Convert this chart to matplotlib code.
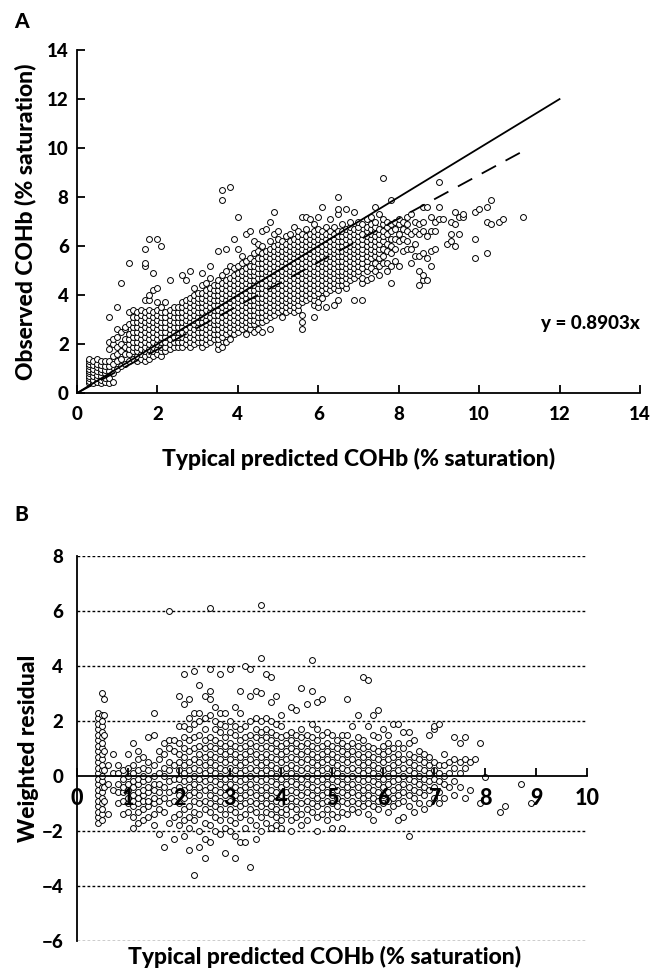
"""
Observed vs typical predicted COHb (A) and weighted residuals (B)
"""
import numpy as np
import matplotlib
matplotlib.use('Agg')
import matplotlib.pyplot as plt

plt.rcParams['font.family'] = ['Lato', 'DejaVu Sans']
HEAVY = 'black'

# ---- Panel A: observed vs predicted, one column of observed values per predicted value
a_pred_cols = [0.3, 0.4, 0.5, 0.6, 0.7, 0.8, 0.9, 1.0, 1.1, 1.2, 1.3, 1.4, 1.5, 1.6, 1.7, 1.8, 1.9,
               2.0, 2.1, 2.2, 2.3, 2.4, 2.5, 2.6, 2.7, 2.8, 2.9, 3.0, 3.1, 3.2, 3.3, 3.4, 3.5, 3.6,
               3.7, 3.8, 3.9, 4.0, 4.1, 4.2, 4.3, 4.4, 4.5, 4.6, 4.7, 4.8, 4.9, 5.0, 5.1, 5.2, 5.3,
               5.4, 5.5, 5.6, 5.7, 5.8, 5.9, 6.0, 6.1, 6.2, 6.3, 6.4, 6.5, 6.6, 6.7, 6.8, 6.9, 7.0,
               7.1, 7.2, 7.3, 7.4, 7.5, 7.6, 7.7, 7.8, 7.9, 8.0, 8.1, 8.2, 8.3, 8.4, 8.5, 8.6, 8.7,
               8.8, 8.9, 9.0, 9.1, 9.2, 9.3, 9.4, 9.5, 9.6, 9.9, 10.0, 10.2, 10.3, 10.5, 10.6, 11.1]
a_obs_cols = [
    [0.4, 0.5, 0.6, 0.7, 0.8, 0.9, 1.0, 1.1, 1.2, 1.3, 1.4],
    [0.4, 0.55, 0.7, 0.85, 1.0, 1.15, 1.3],
    [0.45, 0.6, 0.75, 0.9, 1.05, 1.2, 1.4],
    [0.4, 0.55, 0.7, 0.85, 1.0, 1.15, 1.3],
    [0.45, 0.6, 0.8, 0.95, 1.1, 1.3],
    [0.4, 0.6, 0.9, 1.1, 1.3, 1.8, 2.1, 3.1],
    [0.45, 0.8, 1.2, 1.5, 2.0, 2.2],
    [1.0, 1.3, 1.6, 1.9, 2.3, 2.6, 3.5],
    [1.1, 1.4, 1.7, 2.0, 2.5, 4.5],
    [1.2, 1.6, 1.9, 2.2, 2.6, 2.7],
    [1.3, 1.6, 1.8, 2.0, 2.2, 2.4, 2.8, 3.3, 5.3],
    [1.4, 1.7, 1.9, 2.1, 2.3, 2.5, 2.7, 2.9, 3.1, 3.4],
    [1.3, 1.5, 1.7, 1.9, 2.1, 2.3, 2.5, 2.7, 2.9, 3.1, 3.3],
    [1.4, 1.6, 1.8, 2.0, 2.2, 2.4, 2.6, 2.8, 3.0, 3.2, 3.4],
    [1.3, 1.5, 1.7, 1.9, 2.1, 2.3, 2.5, 2.7, 2.9, 3.1, 3.3, 3.8, 5.2, 5.3, 5.9],
    [1.4, 1.6, 1.8, 2.0, 2.2, 2.4, 2.6, 2.8, 3.0, 3.2, 3.4, 3.8, 4.0, 6.3],
    [1.5, 1.7, 1.9, 2.1, 2.3, 2.5, 2.7, 2.9, 3.1, 3.3, 4.2, 4.9],
    [1.6, 1.8, 2.0, 2.2, 2.4, 2.6, 2.8, 3.0, 3.2, 3.4, 3.7, 4.3, 6.3],
    [1.5, 1.7, 1.9, 2.1, 2.3, 2.5, 2.7, 2.9, 3.1, 3.3, 3.5, 6.0],
    [1.7, 1.9, 2.1, 2.3, 2.5, 2.7, 2.9, 3.1, 3.3, 3.7],
    [1.8, 2.0, 2.2, 2.4, 2.6, 2.8, 3.0, 3.2, 3.4, 4.6],
    [1.9, 2.1, 2.3, 2.5, 2.7, 2.9, 3.1, 3.3, 3.5],
    [1.9, 2.1, 2.3, 2.5, 2.7, 2.9, 3.1, 3.3, 3.5],
    [1.9, 2.1, 2.3, 2.5, 2.7, 2.9, 3.1, 3.3, 3.5, 3.7, 4.8],
    [2.0, 2.2, 2.4, 2.6, 2.8, 3.0, 3.2, 3.4, 3.6, 3.8, 4.6],
    [1.9, 2.1, 2.3, 2.5, 2.7, 2.9, 3.1, 3.3, 3.5, 3.7, 3.9, 5.0],
    [2.0, 2.2, 2.4, 2.6, 2.8, 3.0, 3.2, 3.4, 3.6, 3.8, 4.0, 4.3],
    [2.1, 2.3, 2.5, 2.7, 2.9, 3.1, 3.3, 3.5, 3.7, 3.9, 4.1],
    [1.9, 2.1, 2.3, 2.5, 2.7, 2.9, 3.1, 3.3, 3.5, 3.7, 3.9, 4.1, 4.4, 4.9],
    [2.0, 2.2, 2.4, 2.6, 2.8, 3.0, 3.2, 3.4, 3.6, 3.8, 4.0, 4.2, 4.5],
    [2.1, 2.3, 2.5, 2.7, 2.9, 3.1, 3.3, 3.5, 3.7, 3.9, 4.1, 4.3, 4.7, 5.2],
    [2.2, 2.4, 2.6, 2.8, 3.0, 3.2, 3.4, 3.6, 3.8, 4.0, 4.2, 4.4],
    [1.8, 2.0, 2.2, 2.4, 2.6, 2.8, 3.0, 3.2, 3.4, 3.6, 3.8, 4.0, 4.2, 4.4, 4.6, 5.8],
    [1.9, 2.3, 2.5, 2.7, 2.9, 3.1, 3.3, 3.5, 3.7, 3.9, 4.1, 4.3, 4.5, 4.8, 7.9, 8.3],
    [2.1, 2.4, 2.6, 2.8, 3.0, 3.2, 3.4, 3.6, 3.8, 4.0, 4.2, 4.4, 4.6, 5.0, 5.9],
    [2.2, 2.5, 2.7, 2.9, 3.1, 3.3, 3.5, 3.7, 3.9, 4.1, 4.3, 4.5, 4.7, 5.2, 8.4],
    [2.4, 2.6, 2.8, 3.0, 3.2, 3.4, 3.6, 3.8, 4.0, 4.2, 4.4, 4.6, 4.8, 5.1, 6.3],
    [2.5, 2.7, 2.9, 3.1, 3.3, 3.5, 3.7, 3.9, 4.1, 4.3, 4.5, 4.7, 4.9, 5.2, 5.9, 7.2],
    [2.6, 2.8, 3.0, 3.2, 3.4, 3.6, 3.8, 4.0, 4.2, 4.4, 4.6, 4.8, 5.0, 5.3, 5.6],
    [2.4, 2.7, 2.9, 3.1, 3.3, 3.5, 3.7, 3.9, 4.1, 4.3, 4.5, 4.7, 4.9, 5.1, 5.4, 6.5],
    [2.6, 2.8, 3.0, 3.2, 3.4, 3.6, 3.8, 4.0, 4.2, 4.4, 4.6, 4.8, 5.0, 5.2, 5.5, 6.6],
    [2.5, 2.8, 3.0, 3.2, 3.4, 3.6, 3.8, 4.0, 4.2, 4.4, 4.6, 4.8, 5.0, 5.2, 5.4, 5.7, 6.2],
    [2.6, 2.9, 3.1, 3.3, 3.5, 3.7, 3.9, 4.1, 4.3, 4.5, 4.7, 4.9, 5.1, 5.3, 5.5, 5.8, 6.1],
    [2.5, 2.9, 3.1, 3.3, 3.5, 3.7, 3.9, 4.1, 4.3, 4.5, 4.7, 4.9, 5.1, 5.3, 5.5, 5.7, 6.0, 6.6],
    [3.0, 3.2, 3.4, 3.6, 3.8, 4.0, 4.2, 4.4, 4.6, 4.8, 5.0, 5.2, 5.4, 5.6, 5.8, 6.7],
    [2.6, 3.1, 3.3, 3.5, 3.7, 3.9, 4.1, 4.3, 4.5, 4.7, 4.9, 5.1, 5.3, 5.5, 5.7, 5.9, 6.2, 7.0],
    [3.2, 3.4, 3.6, 3.8, 4.0, 4.2, 4.4, 4.6, 4.8, 5.0, 5.2, 5.4, 5.6, 5.8, 6.0, 6.5, 7.4],
    [3.3, 3.5, 3.7, 3.9, 4.1, 4.3, 4.5, 4.7, 4.9, 5.1, 5.3, 5.5, 5.7, 5.9, 6.1, 6.3, 6.6],
    [3.1, 3.4, 3.6, 3.8, 4.0, 4.2, 4.4, 4.6, 4.8, 5.0, 5.2, 5.4, 5.6, 5.8, 6.0, 6.2],
    [3.3, 3.5, 3.7, 3.9, 4.1, 4.3, 4.5, 4.7, 4.9, 5.1, 5.3, 5.5, 5.7, 5.9, 6.1, 6.4],
    [3.4, 3.6, 3.8, 4.0, 4.2, 4.4, 4.6, 4.8, 5.0, 5.2, 5.4, 5.6, 5.8, 6.0, 6.2, 6.5],
    [3.3, 3.5, 3.7, 3.9, 4.1, 4.3, 4.5, 4.7, 4.9, 5.1, 5.3, 5.5, 5.7, 5.9, 6.1, 6.3, 6.8],
    [3.4, 3.6, 3.8, 4.0, 4.2, 4.4, 4.6, 4.8, 5.0, 5.2, 5.4, 5.6, 5.8, 6.0, 6.2, 6.4, 6.6],
    [2.6, 2.9, 3.2, 3.7, 3.9, 4.1, 4.3, 4.5, 4.7, 4.9, 5.1, 5.3, 5.5, 5.7, 5.9, 6.1, 6.3, 6.5, 7.2],
    [3.8, 4.0, 4.2, 4.4, 4.6, 4.8, 5.0, 5.2, 5.4, 5.6, 5.8, 6.0, 6.2, 6.4, 6.7, 7.2],
    [3.9, 4.1, 4.3, 4.5, 4.7, 4.9, 5.1, 5.3, 5.5, 5.7, 5.9, 6.1, 6.3, 6.5, 7.1],
    [3.1, 3.6, 3.8, 4.0, 4.2, 4.4, 4.6, 4.8, 5.0, 5.2, 5.4, 5.6, 5.8, 6.0, 6.2, 6.4, 6.6, 6.9],
    [3.5, 3.7, 4.1, 4.3, 4.5, 4.7, 4.9, 5.1, 5.3, 5.5, 5.7, 5.9, 6.1, 6.3, 6.5, 6.7, 7.2],
    [3.9, 4.2, 4.4, 4.6, 4.8, 5.0, 5.2, 5.4, 5.6, 5.8, 6.0, 6.2, 6.4, 6.6, 7.6],
    [3.5, 4.1, 4.3, 4.5, 4.7, 4.9, 5.1, 5.3, 5.5, 5.7, 5.9, 6.1, 6.3, 6.5, 6.8],
    [4.2, 4.4, 4.6, 4.8, 5.0, 5.2, 5.4, 5.6, 5.8, 6.0, 6.2, 6.4, 6.6, 7.1],
    [3.6, 4.3, 4.5, 4.7, 4.9, 5.1, 5.3, 5.5, 5.7, 5.9, 6.1, 6.3, 6.5, 6.8],
    [3.8, 4.2, 4.4, 4.6, 4.8, 5.0, 5.2, 5.4, 5.6, 5.8, 6.0, 6.2, 6.4, 6.6, 7.3, 7.5, 8.0],
    [4.4, 4.6, 4.8, 5.0, 5.2, 5.4, 5.6, 5.8, 6.0, 6.2, 6.4, 6.6, 6.9],
    [4.3, 4.5, 4.7, 4.9, 5.1, 5.3, 5.5, 5.7, 5.9, 6.1, 6.3, 6.5, 6.7, 7.5],
    [4.6, 4.8, 5.0, 5.2, 5.4, 5.6, 5.8, 6.0, 6.2, 6.4, 6.6, 6.8, 7.0],
    [3.8, 4.7, 4.9, 5.1, 5.3, 5.5, 5.7, 5.9, 6.1, 6.3, 6.5, 6.7, 7.4],
    [4.8, 5.0, 5.2, 5.4, 5.6, 5.8, 6.0, 6.2, 6.4, 6.6, 6.8, 7.0],
    [3.8, 4.5, 4.7, 5.1, 5.3, 5.5, 5.7, 5.9, 6.1, 6.3, 6.5, 6.9],
    [4.6, 5.0, 5.2, 5.4, 5.6, 5.8, 6.0, 6.2, 6.4, 6.6, 6.8, 7.1],
    [4.7, 5.1, 5.5, 5.7, 5.9, 6.1, 6.3, 6.5, 6.7, 6.9, 7.2],
    [5.0, 5.3, 5.6, 5.8, 6.0, 6.2, 6.4, 6.6, 6.8, 7.0, 7.6],
    [4.8, 5.2, 5.5, 5.7, 5.9, 6.1, 6.3, 6.5, 6.7, 7.3],
    [5.3, 5.6, 5.9, 6.2, 6.4, 6.6, 6.9, 7.1, 8.8],
    [5.0, 5.3, 5.8, 6.1, 6.5, 6.8, 7.0],
    [4.5, 5.2, 5.7, 6.0, 6.3, 6.6, 6.9, 7.9],
    [5.4, 5.9, 6.3, 6.7, 7.0],
    [5.2, 6.2, 6.5, 6.9, 7.1],
    [5.8, 6.3, 6.7, 7.0],
    [5.9, 6.2, 6.6, 6.9, 7.2],
    [5.3, 5.9, 6.5, 7.3],
    [5.6, 6.1, 6.6, 7.0],
    [4.4, 5.0, 5.6, 6.5, 6.9],
    [4.6, 4.8, 5.7, 6.6, 7.0, 7.6],
    [4.6, 5.5, 6.4, 7.6],
    [5.2, 5.8, 6.6, 7.2],
    [5.9, 6.6, 7.0],
    [7.1, 7.6, 8.6],
    [7.1],
    [6.1],
    [6.2, 6.5, 7.0],
    [6.0, 6.9, 7.4],
    [6.5, 7.2],
    [7.2, 7.3],
    [5.5, 6.3, 7.4],
    [7.5],
    [5.7, 7.0, 7.6],
    [6.9, 7.9],
    [7.0],
    [7.1],
    [7.2],
]

identity_end = 12.0
fit_slope = 0.8903
fit_end = 11.1

# ---- Panel B: weighted residual vs predicted
b_pred_cols = [0.42, 0.48, 0.52, 0.6, 0.7, 0.8, 0.9, 1.0, 1.1, 1.2, 1.3, 1.4, 1.5, 1.6, 1.7, 1.8,
               1.9, 2.0, 2.1, 2.2, 2.3, 2.4, 2.5, 2.6, 2.7, 2.8, 2.9, 3.0, 3.1, 3.2, 3.3, 3.4, 3.5,
               3.6, 3.7, 3.8, 3.9, 4.0, 4.1, 4.2, 4.3, 4.4, 4.5, 4.6, 4.7, 4.8, 4.9, 5.0, 5.1, 5.2,
               5.3, 5.4, 5.5, 5.6, 5.7, 5.8, 5.9, 6.0, 6.1, 6.2, 6.3, 6.4, 6.5, 6.6, 6.7, 6.8, 6.9,
               7.0, 7.1, 7.2, 7.3, 7.4, 7.5, 7.6, 7.7, 7.8, 7.9, 8.0, 8.3, 8.4, 8.7, 8.9]
b_res_cols = [
    [-1.7, -1.5, -1.3, -1.1, -0.9, -0.7, -0.5, -0.3, -0.1, 0.1, 0.3, 0.5, 0.7, 0.9, 1.1, 1.3, 1.5, 1.7, 1.9, 2.1, 2.3],
    [-1.6, -1.4, -1.2, -1.0, -0.8, -0.6, -0.4, -0.2, 0.0, 0.2, 0.4, 0.6, 0.8, 1.0, 1.2, 1.4, 1.6, 1.8, 2.0, 2.2, 3.0],
    [-0.9, -0.4, 0.2, 0.9, 1.5, 2.2, 2.8],
    [-1.4, -0.3, 0.4],
    [-0.5, 0.1, 0.8],
    [-1.0, -0.6, -0.3, 0.1, 0.4],
    [-1.4, -0.9, -0.6, -0.4, -0.1, 0.2],
    [-1.3, -1.0, -0.8, -0.5, -0.3, 0.0, 0.3, 0.8],
    [-1.9, -1.5, -1.1, -0.9, -0.7, -0.4, -0.2, 0.1, 0.4, 1.2],
    [-1.7, -1.3, -1.0, -0.8, -0.6, -0.3, -0.1, 0.2, 0.6, 0.9],
    [-1.6, -1.2, -0.9, -0.7, -0.5, -0.2, 0.0, 0.3, 0.7],
    [-1.5, -1.1, -0.9, -0.6, -0.4, -0.1, 0.2, 0.5, 1.4],
    [-1.8, -1.4, -1.0, -0.8, -0.5, -0.3, 0.0, 0.4, 1.5, 2.3],
    [-2.1, -1.2, -0.9, -0.6, -0.3, 0.1, 0.6, 0.9],
    [-2.6, -1.3, -0.8, -0.4, 0.0, 0.3, 0.8, 1.2],
    [-1.7, -1.0, -0.6, -0.2, 0.2, 0.5, 1.0, 1.3, 6.0],
    [-2.3, -1.5, -0.9, -0.5, -0.1, 0.4, 0.9, 1.3],
    [-1.8, -1.4, -1.0, -0.7, -0.4, -0.1, 0.2, 0.5, 0.8, 1.2, 1.8, 2.9],
    [-2.2, -1.6, -1.2, -0.8, -0.5, -0.2, 0.1, 0.4, 0.7, 1.0, 1.4, 1.8, 2.6, 3.7],
    [-2.7, -1.9, -1.5, -1.1, -0.7, -0.4, -0.1, 0.2, 0.5, 0.9, 1.3, 1.7, 2.1, 2.8],
    [-3.6, -1.6, -1.3, -0.9, -0.6, -0.3, 0.0, 0.3, 0.6, 1.0, 1.4, 1.9, 2.3, 3.8],
    [-2.6, -2.0, -1.4, -1.0, -0.7, -0.4, -0.1, 0.2, 0.5, 0.8, 1.1, 1.5, 2.0, 2.3, 3.3],
    [-3.0, -2.3, -1.7, -1.2, -0.9, -0.5, -0.2, 0.1, 0.4, 0.7, 1.0, 1.3, 1.7, 2.1, 2.9],
    [-2.4, -1.8, -1.3, -1.0, -0.7, -0.4, -0.1, 0.2, 0.5, 0.8, 1.1, 1.4, 2.2, 2.8, 3.1, 3.9, 6.1],
    [-2.0, -1.5, -1.1, -0.8, -0.5, -0.2, 0.1, 0.4, 0.7, 1.0, 1.3, 1.7, 2.0, 2.5],
    [-2.1, -1.6, -1.2, -0.9, -0.6, -0.3, 0.0, 0.3, 0.6, 0.9, 1.2, 1.6, 1.9, 2.3, 3.7],
    [-2.8, -1.9, -1.4, -1.0, -0.7, -0.4, -0.1, 0.2, 0.5, 0.8, 1.1, 1.4, 1.8, 2.3],
    [-2.0, -1.6, -1.2, -0.9, -0.6, -0.3, 0.0, 0.3, 0.6, 0.9, 1.2, 1.6, 2.0, 3.9],
    [-3.0, -2.2, -1.7, -1.3, -1.0, -0.7, -0.4, -0.1, 0.2, 0.5, 0.8, 1.1, 1.5, 1.8, 2.5],
    [-2.4, -1.5, -1.1, -0.8, -0.5, -0.2, 0.1, 0.4, 0.7, 1.0, 1.3, 1.7, 2.3, 3.1],
    [-2.4, -1.9, -1.4, -1.0, -0.7, -0.4, -0.1, 0.2, 0.5, 0.8, 1.1, 1.4, 1.8, 4.0],
    [-3.3, -1.6, -1.2, -0.9, -0.6, -0.3, 0.0, 0.3, 0.6, 0.9, 1.2, 1.5, 2.0, 2.9, 3.9],
    [-2.3, -1.8, -1.3, -1.0, -0.7, -0.4, -0.1, 0.2, 0.5, 0.8, 1.1, 1.4, 1.7, 2.1, 3.1],
    [-2.0, -1.5, -1.1, -0.8, -0.5, -0.2, 0.1, 0.4, 0.7, 1.0, 1.3, 1.6, 2.0, 3.0, 4.3, 6.2],
    [-1.7, -1.3, -1.0, -0.7, -0.4, -0.1, 0.2, 0.5, 0.8, 1.1, 1.4, 1.7, 2.1, 3.7],
    [-1.9, -1.4, -1.1, -0.8, -0.5, -0.2, 0.1, 0.4, 0.7, 1.0, 1.3, 1.6, 2.0, 2.7, 3.6],
    [-1.8, -1.5, -1.2, -0.9, -0.6, -0.3, 0.0, 0.3, 0.6, 0.9, 1.2, 1.5, 1.9, 2.9],
    [-1.9, -1.6, -1.3, -1.0, -0.7, -0.4, -0.1, 0.2, 0.5, 0.8, 1.1, 1.4, 1.8, 2.2],
    [-1.4, -1.2, -0.9, -0.6, -0.3, 0.0, 0.3, 0.6, 0.9, 1.2, 1.5],
    [-2.0, -1.6, -1.1, -0.8, -0.5, -0.2, 0.1, 0.4, 0.7, 1.0, 1.3, 1.6, 2.5],
    [-1.5, -1.2, -0.9, -0.6, -0.3, 0.0, 0.3, 0.6, 0.9, 1.2, 1.5, 2.4],
    [-1.8, -1.4, -1.0, -0.7, -0.4, -0.1, 0.2, 0.5, 0.8, 1.1, 1.4, 1.7, 3.2],
    [-1.6, -1.2, -0.9, -0.6, -0.3, 0.0, 0.3, 0.6, 0.9, 1.2, 1.5, 2.6],
    [-1.3, -1.0, -0.7, -0.4, -0.1, 0.2, 0.5, 0.8, 1.1, 1.4, 1.9, 3.1, 4.2],
    [-2.0, -1.5, -1.1, -0.8, -0.5, -0.2, 0.1, 0.4, 0.7, 1.0, 1.3, 1.7, 2.7],
    [-1.4, -1.0, -0.7, -0.4, -0.1, 0.2, 0.5, 0.8, 1.1, 1.5, 2.8],
    [-1.6, -1.2, -0.9, -0.6, -0.3, 0.0, 0.3, 0.6, 0.9, 1.2, 1.6],
    [-1.9, -1.4, -1.0, -0.7, -0.4, -0.1, 0.2, 0.5, 0.8, 1.1, 1.5],
    [-1.5, -1.1, -0.8, -0.5, -0.2, 0.1, 0.4, 0.7, 1.0, 1.3],
    [-1.9, -1.3, -0.9, -0.6, -0.3, 0.0, 0.3, 0.6, 0.9, 1.2, 1.5],
    [-1.4, -1.0, -0.7, -0.4, -0.1, 0.2, 0.5, 0.8, 1.1, 1.5, 2.8],
    [-1.2, -0.9, -0.6, -0.3, 0.0, 0.3, 0.6, 0.9, 1.2, 1.8],
    [-1.3, -1.0, -0.7, -0.4, -0.1, 0.2, 0.5, 0.8, 1.1, 1.4, 2.2],
    [-1.1, -0.8, -0.5, -0.2, 0.1, 0.4, 0.7, 1.0, 1.3, 3.6],
    [-1.4, -1.0, -0.7, -0.4, -0.1, 0.2, 0.5, 0.8, 1.1, 1.8, 3.5],
    [-1.6, -1.1, -0.8, -0.5, -0.2, 0.1, 0.4, 0.7, 1.0, 1.5, 2.2],
    [-1.2, -0.9, -0.6, -0.3, 0.0, 0.3, 0.6, 0.9, 1.4, 2.4],
    [-1.0, -0.7, -0.4, -0.1, 0.2, 0.5, 0.8, 1.1, 1.7],
    [-1.3, -0.9, -0.6, -0.3, 0.0, 0.3, 0.6, 0.9, 1.2, 1.5],
    [-1.1, -0.8, -0.5, -0.2, 0.1, 0.4, 0.7, 1.0, 1.9],
    [-1.6, -1.0, -0.7, -0.4, -0.1, 0.2, 0.5, 0.8, 1.2, 1.9],
    [-1.5, -0.9, -0.6, -0.3, 0.0, 0.3, 0.6, 1.0, 1.6],
    [-2.2, -1.1, -0.7, -0.4, -0.1, 0.2, 0.5, 0.8, 1.2, 1.6],
    [-1.3, -0.8, -0.5, -0.2, 0.1, 0.4, 0.7, 1.3],
    [-1.0, -0.6, -0.3, 0.0, 0.3, 0.6, 0.9],
    [-1.2, -0.7, -0.4, -0.1, 0.2, 0.5, 0.8],
    [-1.0, -0.5, -0.2, 0.1, 0.4, 0.7, 1.5],
    [-0.8, -0.4, -0.1, 0.2, 0.5, 1.7, 1.8],
    [-1.0, -0.6, -0.2, 0.1, 0.4, 1.9],
    [-0.8, -0.3, 0.0, 0.4, 0.8],
    [-0.4, 0.1, 0.5],
    [-0.7, -0.2, 0.3, 0.6, 1.4],
    [-0.4, 0.1, 0.5, 1.2],
    [-0.8, 0.3, 0.6, 1.4],
    [-0.5, 0.5],
    [0.6],
    [-1.0, 1.2],
    [-0.05],
    [-1.3],
    [-1.1],
    [-0.3],
    [-1.0],
]
b_grid_levels = [-6, -4, -2, 2, 4, 6, 8]


def flatten(xs, ys_lists):
    x = np.concatenate([np.full(len(ys), xv) for xv, ys in zip(xs, ys_lists)])
    y = np.concatenate([np.asarray(ys, dtype=float) for ys in ys_lists])
    return x, y


a_x, a_y = flatten(a_pred_cols, a_obs_cols)
b_x, b_y = flatten(b_pred_cols, b_res_cols)

marker_kw = dict(s=18, facecolors='white', edgecolors='black', linewidths=0.7)
label_kw = dict(fontsize=16.5, fontweight=HEAVY)
tick_fs = 13.5

fig = plt.figure(figsize=(6.5, 9.73), dpi=100)

# ---------------- Panel A ----------------
ax1 = fig.add_axes([0.1185, 0.596, 0.866, 0.3525])
ax1.scatter(a_x, a_y, zorder=2, clip_on=False, **marker_kw)
ax1.plot([0, identity_end], [0, identity_end], color='black', lw=1.3, zorder=3)
ax1.plot([0, fit_end], [0, fit_slope * fit_end], color='black', lw=1.3,
         dashes=(9, 6), zorder=3)
ax1.text(14, 2.86, f'y = {fit_slope:.4f}x', ha='right', va='center',
         fontsize=13.5, fontweight=HEAVY)
ax1.set_xlim(0, 14)
ax1.set_ylim(0, 14)
ax1.set_xticks(range(0, 15, 2))
ax1.set_yticks(range(0, 15, 2))
for s in ['top', 'right']:
    ax1.spines[s].set_visible(False)
for s in ['left', 'bottom']:
    ax1.spines[s].set_linewidth(1.3)
ax1.tick_params(axis='x', direction='in', length=6, width=1.3, labelsize=tick_fs, pad=9)
ax1.tick_params(axis='y', direction='in', length=6, width=1.3, labelsize=tick_fs, pad=6)
for lab in ax1.get_xticklabels() + ax1.get_yticklabels():
    lab.set_fontweight(HEAVY)
ax1.set_xlabel('Typical predicted COHb (% saturation)', labelpad=18, **label_kw)
ax1.set_ylabel('Observed COHb (% saturation)', labelpad=8, **label_kw)
fig.text(0.022, 0.988, 'A', fontsize=15, fontweight=HEAVY, va='top')

# ---------------- Panel B ----------------
ax2 = fig.add_axes([0.1185, 0.0329, 0.7846, 0.3957])
ax2.hlines(b_grid_levels, 0, 10, colors='black', linestyles=(0, (2, 1.6)),
           lw=1.0, zorder=1)
ax2.scatter(b_x, b_y, zorder=2, **marker_kw)
ax2.set_xlim(0, 10)
ax2.set_ylim(-6, 8)
ax2.set_xticks(range(0, 11))
ax2.set_yticks(range(-6, 9, 2))
ax2.set_yticklabels([str(v).replace('-', '\u2212') for v in range(-6, 9, 2)])
ax2.spines['top'].set_visible(False)
ax2.spines['right'].set_visible(False)
ax2.spines['bottom'].set_position(('data', 0))
ax2.spines['bottom'].set_zorder(4)
ax2.spines['bottom'].set_linewidth(1.3)
ax2.spines['left'].set_linewidth(1.3)
ax2.xaxis.set_zorder(5)
ax2.tick_params(axis='x', direction='in', length=6, width=1.3, labelsize=tick_fs + 2, pad=9)
ax2.tick_params(axis='y', length=0, labelsize=tick_fs, pad=10)
for lab in ax2.get_xticklabels() + ax2.get_yticklabels():
    lab.set_fontweight(HEAVY)
ax2.set_ylabel('Weighted residual', labelpad=2, **label_kw)
fig.text(0.5, 0.016, 'Typical predicted COHb (% saturation)', ha='center',
         va='center', **label_kw)
fig.text(0.022, 0.481, 'B', fontsize=15, fontweight=HEAVY, va='top')

fig.savefig('out.png', dpi=100)
